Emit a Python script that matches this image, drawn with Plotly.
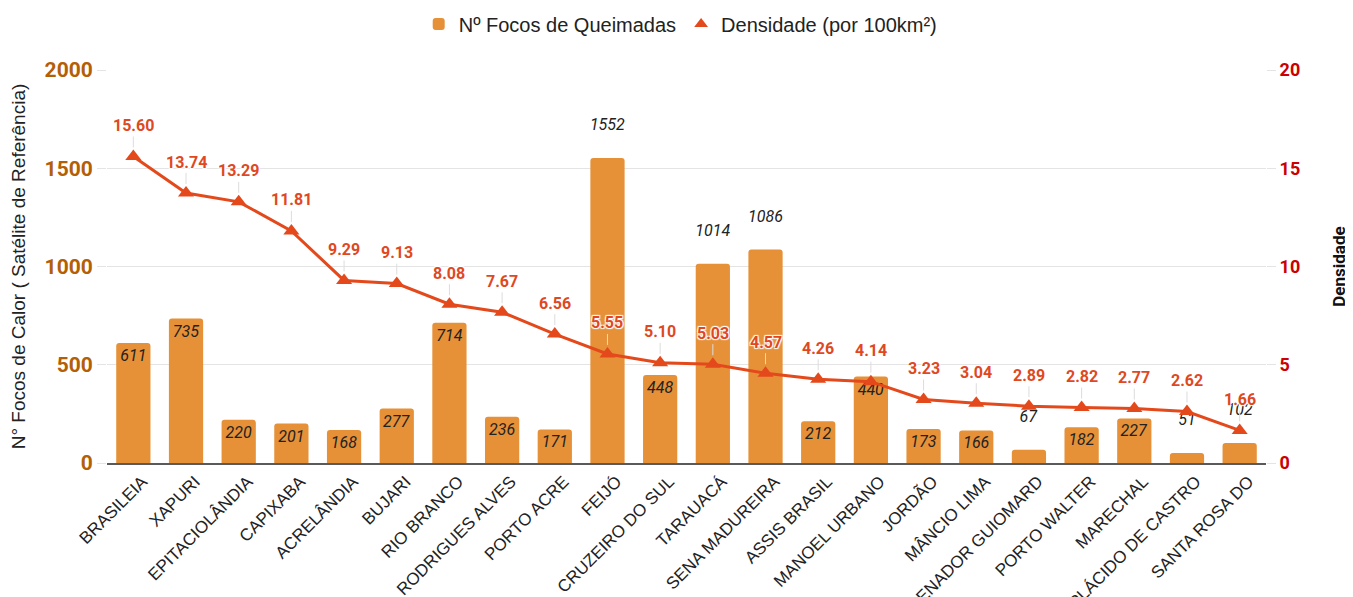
import plotly.graph_objects as go

municipios = ["BRASILEIA", "XAPURI", "EPITACIOLÂNDIA", "CAPIXABA", "ACRELÂNDIA", "BUJARI",
              "RIO BRANCO", "RODRIGUES ALVES", "PORTO ACRE", "FEIJÓ", "CRUZEIRO DO SUL",
              "TARAUACÁ", "SENA MADUREIRA", "ASSIS BRASIL", "MANOEL URBANO", "JORDÃO",
              "MÂNCIO LIMA", "SENADOR GUIOMARD", "PORTO WALTER", "MARECHAL",
              "PLÁCIDO DE CASTRO", "SANTA ROSA DO"]
focos = [611, 735, 220, 201, 168, 277, 714, 236, 171, 1552, 448, 1014, 1086, 212, 440,
         173, 166, 67, 182, 227, 51, 102]
densidade = [15.60, 13.74, 13.29, 11.81, 9.29, 9.13, 8.08, 7.67, 6.56, 5.55, 5.10, 5.03,
             4.57, 4.26, 4.14, 3.23, 3.04, 2.89, 2.82, 2.77, 2.62, 1.66]

BAR_COLOR = "#e69138"
LINE_COLOR = "#e4491c"
LABEL_COLOR = "#e0481f"

# label placement rule: very tall or very short bars get the label above
positions = ["outside" if (v > 1000 or v < 110) else "inside" for v in focos]
bar_text = [f"{v}<br> " if p == "outside" else f"{v}" for v, p in zip(focos, positions)]

fig = go.Figure()
fig.add_trace(go.Bar(
    x=municipios, y=focos, name="Nº Focos de Queimadas",
    marker=dict(color=BAR_COLOR, line=dict(width=0)),
    text=bar_text, textposition=positions, insidetextanchor="end",
    textangle=0, constraintext="none", cliponaxis=False,
    textfont=dict(family="Roboto", size=16, color="#222222", style="italic"),
    hoverinfo="x+y",
))
fig.add_trace(go.Scatter(
    x=municipios, y=densidade, yaxis="y2", mode="lines+markers",
    line=dict(color=LINE_COLOR, width=3),
    marker=dict(symbol="triangle-up", size=14, color=LINE_COLOR),
    showlegend=False, name="Densidade (por 100km²)", cliponaxis=False,
))
fig.add_trace(go.Scatter(
    x=[None], y=[None], yaxis="y2", mode="markers", name="Densidade (por 100km²)",
    marker=dict(symbol="triangle-up", size=14, color=LINE_COLOR),
))

shadow = "1px 1px 1px white, -1px -1px 1px white, 1px -1px 1px white, -1px 1px 1px white"
annotations = []
for m, d in zip(municipios, densidade):
    annotations.append(dict(
        x=m, y=d, xref="x", yref="y2", text=f"<b>{d:.2f}</b>",
        showarrow=True, arrowhead=0, arrowwidth=1, arrowcolor="#dcdcdc",
        ax=0, ay=-31, standoff=9,
        font=dict(family="Roboto", size=16, color=LABEL_COLOR, shadow=shadow),
    ))

fig.update_layout(
    width=1345, height=589,
    margin=dict(l=99, r=87, t=62, b=134, autoexpand=False),
    paper_bgcolor="white", plot_bgcolor="white",
    bargap=0.35, barcornerradius=3,
    font=dict(family="Liberation Sans, Arial", color="#222222"),
    legend=dict(orientation="h", x=0.495, xanchor="center", y=1.117, yanchor="middle",
                font=dict(family="Liberation Sans, Arial", size=20, color="#222222"),
                itemsizing="constant", traceorder="normal"),
    xaxis=dict(
        range=[-0.5, len(municipios) - 0.5],
        tickangle=-45, tickfont=dict(family="Liberation Sans, Arial", size=17, color="#222222"),
        ticklabelshift=9,
        showline=True, linecolor="#5a5a5a", linewidth=2, ticks="", showgrid=False,
        automargin=False,
    ),
    yaxis=dict(
        range=[0, 2000], dtick=500, showgrid=True, gridcolor="#e4e4e4", zeroline=False,
        ticks="outside", ticklen=9, tickcolor="#e4e4e4", automargin=False,
        tickfont=dict(family="Roboto", size=21, color="#b45f06", weight="bold"),
        title=dict(text="N° Focos de Calor ( Satélite de Referência)",
                   font=dict(family="Liberation Sans, Arial", size=19, color="#222222"),
                   standoff=13),
    ),
    yaxis2=dict(
        range=[0, 20], dtick=5, overlaying="y", side="right", showgrid=False,
        zeroline=False, ticks="outside", ticklen=9, tickcolor="#e4e4e4", automargin=False,
        tickfont=dict(family="Roboto", size=18, color="#cc0000", weight="bold"),
        title=dict(text="Densidade", font=dict(family="Roboto", size=17, color="#111111",
                                               weight="bold"), standoff=33),
    ),
    annotations=annotations,
)

fig.write_html("out.html")
